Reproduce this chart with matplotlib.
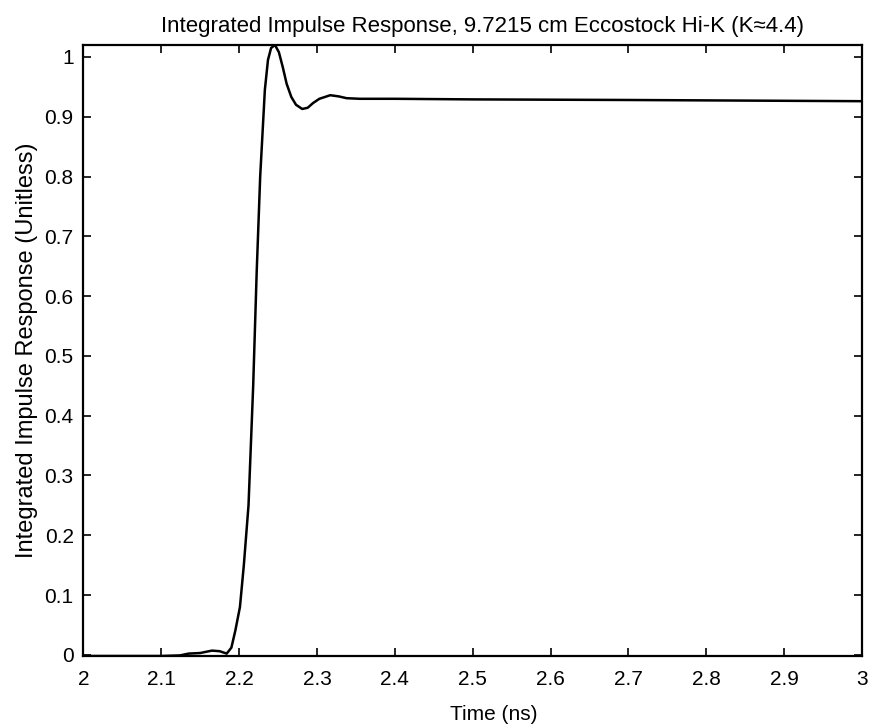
import matplotlib
matplotlib.use("Agg")
import matplotlib.pyplot as plt
import numpy as np

plt.rcParams['font.family'] = ['Liberation Sans', 'DejaVu Sans']

time_ns = [2.0, 2.10, 2.124, 2.135, 2.15, 2.165, 2.175, 2.184, 2.19, 2.195, 2.201, 2.206,
           2.212, 2.218, 2.2225, 2.227, 2.233, 2.237, 2.241, 2.246, 2.251, 2.256, 2.261,
           2.267, 2.273, 2.281, 2.288, 2.295, 2.303, 2.317, 2.328, 2.338, 2.355, 2.40,
           2.5, 2.7, 3.0]
response = [-0.002, -0.002, -0.001, 0.002, 0.003, 0.007, 0.006, 0.002, 0.012, 0.04,
            0.08, 0.15, 0.25, 0.45, 0.64, 0.80, 0.945, 0.995, 1.015, 1.02, 1.008,
            0.983, 0.955, 0.933, 0.92, 0.913, 0.915, 0.923, 0.93, 0.936, 0.934,
            0.931, 0.930, 0.930, 0.929, 0.928, 0.926]

x_ticks = [2, 2.1, 2.2, 2.3, 2.4, 2.5, 2.6, 2.7, 2.8, 2.9, 3]
x_ticklabels = ['2', '2.1', '2.2', '2.3', '2.4', '2.5', '2.6', '2.7', '2.8', '2.9', '3']
y_ticks = [0, 0.1, 0.2, 0.3, 0.4, 0.5, 0.6, 0.7, 0.8, 0.9, 1]
y_ticklabels = ['0', '0.1', '0.2', '0.3', '0.4', '0.5', '0.6', '0.7', '0.8', '0.9', '1']

fig = plt.figure(figsize=(8.73, 7.28), dpi=100)
ax = fig.add_axes([0.0956, 0.0989, 0.8918, 0.8393])
ax.plot(time_ns, response, color='black', linewidth=1.8)
ax.set_xlim(2, 3)
ax.set_ylim(-0.002, 1.02)
ax.set_xticks(x_ticks)
ax.set_xticklabels(x_ticklabels)
ax.set_yticks(y_ticks)
ax.set_yticklabels(y_ticklabels)
ax.tick_params(direction='in', top=True, right=True, length=6, width=1.2,
               labelsize=15)
ax.tick_params(axis='x', pad=10)
ax.tick_params(axis='y', pad=7)
for s in ax.spines.values():
    s.set_linewidth(1.6)
ax.set_title('Integrated Impulse Response, 9.7215 cm Eccostock Hi-K (K\u22484.4)',
             fontsize=16, pad=9, x=0.512)
ax.set_xlabel('Time (ns)', fontsize=15)
ax.xaxis.set_label_coords(0.527, -0.08)
ax.set_ylabel('Integrated Impulse Response (Unitless)', fontsize=17, labelpad=5)
fig.savefig('out.png', dpi=100)
